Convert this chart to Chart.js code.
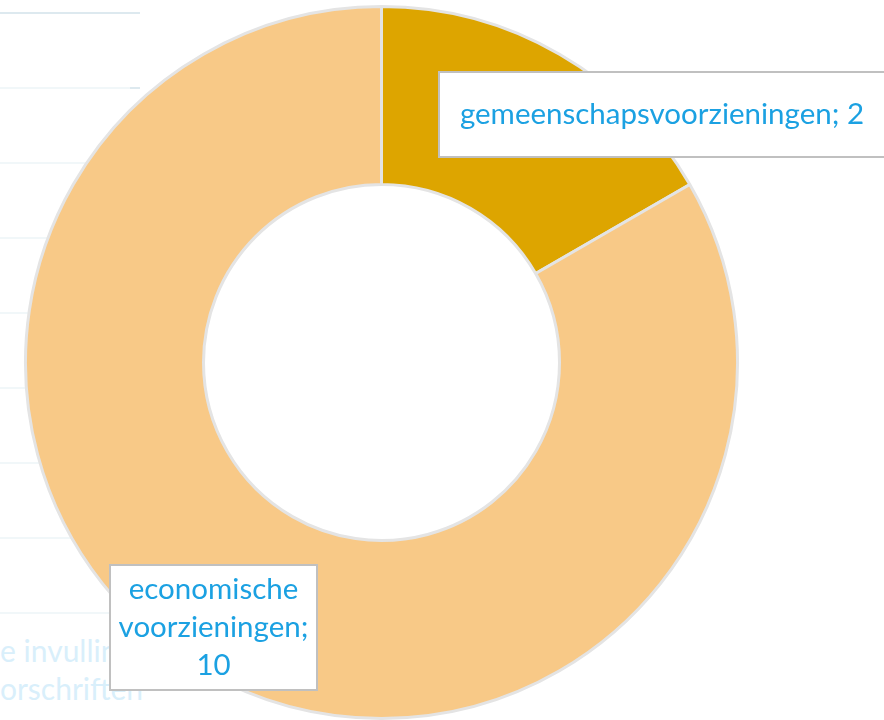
<!DOCTYPE html>
<html><head><meta charset="utf-8">
<script src="https://cdn.jsdelivr.net/npm/chart.js@4"></script>
<style>
html,body{margin:0;padding:0;background:#fff;}
#wrap{position:relative;width:884px;height:720px;overflow:hidden;background:#fff;}
#c{position:absolute;left:0;top:0;}
.gl{position:absolute;left:0;height:2px;background:#f1f7f9;}
.ft{position:absolute;left:0;font-family:Lato,"Open Sans",sans-serif;font-size:30px;color:#d9effb;white-space:nowrap;line-height:1;}
</style></head>
<body>
<div id="wrap">
  <div class="gl" style="top:12px;width:140px;background:#dde9ef;"></div>
  <div class="gl" style="top:87px;width:130px;"></div>
  <div class="gl" style="top:87px;left:130px;width:10px;background:#dde9ef;"></div>
  <div class="gl" style="top:162px;width:140px;"></div>
  <div class="gl" style="top:237px;width:140px;"></div>
  <div class="gl" style="top:312px;width:140px;"></div>
  <div class="gl" style="top:387px;width:140px;"></div>
  <div class="gl" style="top:462px;width:140px;"></div>
  <div class="gl" style="top:537px;width:140px;"></div>
  <div class="gl" style="top:612px;width:140px;"></div>
  <div class="ft" style="top:635px;">e invulling</div>
  <div class="ft" style="top:673px;">orschriften</div>
  <canvas id="c" width="884" height="720"></canvas>
</div>
<script>
const categories = ['gemeenschapsvoorzieningen', 'economische voorzieningen'];
const values = [2, 10];
const sliceColors = ['#DDA500', '#F8C987'];

function labelLines(i) {
  const cat = categories[i], v = values[i];
  if (i === 0) return [cat + '; ' + v];
  const words = cat.split(' ');
  return words.map((w, j) => j === words.length - 1 ? w + ';' : w).concat([String(v)]);
}

const boxLabels = {
  id: 'boxLabels',
  afterDatasetsDraw(chart, args, opts) {
    const ctx = chart.ctx;
    ctx.save();
    opts.boxes.forEach((b, i) => {
      ctx.fillStyle = '#ffffff';
      ctx.fillRect(b.x, b.y, b.w, b.h);
      ctx.strokeStyle = '#c0c0c0';
      ctx.lineWidth = 2;
      ctx.strokeRect(b.x, b.y, b.w, b.h);
      const lines = labelLines(i);
      ctx.fillStyle = '#1BA1E2';
      ctx.font = opts.font;
      ctx.textAlign = 'center';
      ctx.textBaseline = 'middle';
      const cx = b.x + b.w / 2, cy = b.y + b.h / 2;
      const lh = opts.lineHeight;
      lines.forEach((t, k) => {
        ctx.fillText(t, cx, cy + (k - (lines.length - 1) / 2) * lh);
      });
    });
    ctx.restore();
  }
};

new Chart(document.getElementById('c'), {
  type: 'doughnut',
  data: {
    labels: categories,
    datasets: [{
      data: values,
      backgroundColor: sliceColors,
      borderColor: '#E4E4E4',
      borderWidth: 3,
      hoverOffset: 0
    }]
  },
  options: {
    responsive: false,
    animation: false,
    cutout: '50%',
    layout: { padding: { left: 24, right: 145, top: 5, bottom: 0 } },
    plugins: {
      legend: { display: false },
      tooltip: { enabled: false },
      boxLabels: {
        font: '29.5px Lato, "Open Sans", sans-serif',
        lineHeight: 38,
        boxes: [
          { x: 439, y: 72, w: 446, h: 85 },
          { x: 110, y: 565, w: 207, h: 125 }
        ]
      }
    }
  },
  plugins: [boxLabels]
});
</script>
</body></html>
